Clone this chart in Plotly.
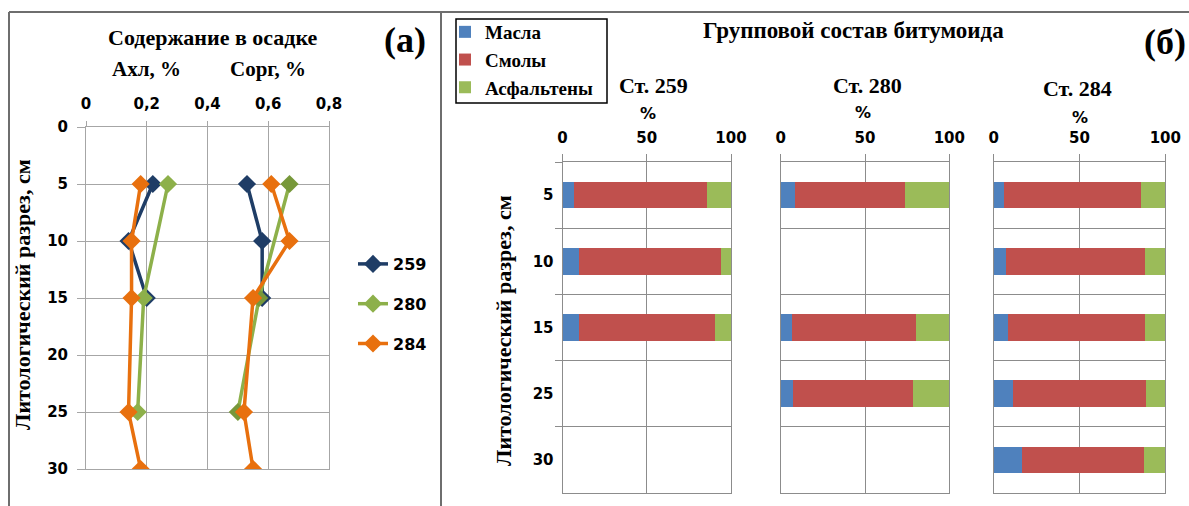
import plotly.graph_objects as go

W, H = 1189, 506

# ---------- data: panel (a) ----------
depth_259 = [5, 10, 15]
akhl_259 = [0.22, 0.14, 0.20]
sorg_259 = [0.53, 0.58, 0.58]
depth_280 = [5, 15, 25]
akhl_280 = [0.27, 0.19, 0.17]
sorg_280 = [0.67, 0.57, 0.50]
depth_284 = [5, 10, 15, 25, 30]
akhl_284 = [0.18, 0.15, 0.15, 0.14, 0.18]
sorg_284 = [0.61, 0.67, 0.55, 0.52, 0.55]

# ---------- data: panel (б) ----------
depth_cats = ["5", "10", "15", "25", "30"]
st259_depth = ["5", "10", "15"]
st259_oil = [7.1, 9.9, 9.9]
st259_resin = [78.5, 84.2, 80.4]
st259_asph = [14.4, 5.9, 9.7]
st280_depth = ["5", "15", "25"]
st280_oil = [8.7, 6.5, 7.3]
st280_resin = [65.0, 73.7, 71.0]
st280_asph = [26.3, 19.8, 21.7]
st284_depth = ["5", "10", "15", "25", "30"]
st284_oil = [6.2, 7.0, 8.2, 11.5, 16.3]
st284_resin = [79.8, 81.2, 80.0, 77.2, 71.1]
st284_asph = [14.0, 11.8, 11.8, 11.3, 12.6]

NAVY, GREEN, GREEN2, ORANGE = "#1F3D66", "#8DB04A", "#77983A", "#E8700E"
C_OIL, C_RES, C_ASP = "#4F81BD", "#C0504D", "#9BBB59"
SERIF = "Liberation Serif"
SANS = "DejaVu Sans"
GRID = "#A6A6A6"
BGRID = "#8C8C8C"

def px(x):
    return x / W

def py(y):
    return 1 - y / H

fig = go.Figure()

line_sets = [
    ("259", NAVY, NAVY, depth_259, akhl_259, sorg_259),
    ("280", GREEN, GREEN2, depth_280, akhl_280, sorg_280),
    ("284", ORANGE, ORANGE, depth_284, akhl_284, sorg_284),
]
for name, c1, c2, d, a, s in line_sets:
    fig.add_trace(go.Scatter(
        x=a, y=d, mode="lines+markers", name=name, legendgroup=name,
        line=dict(color=c1, width=3.5),
        marker=dict(symbol="diamond", size=14, color=c1),
        xaxis="x", yaxis="y", legend="legend"))
    fig.add_trace(go.Scatter(
        x=s, y=d, mode="lines+markers", name=name, legendgroup=name, showlegend=False,
        line=dict(color=c1, width=3.5),
        marker=dict(symbol="diamond", size=14, color=c2),
        xaxis="x", yaxis="y", legend="legend"))

bar_sets = [
    ("x2", "y2", st259_depth, st259_oil, st259_resin, st259_asph, True),
    ("x3", "y3", st280_depth, st280_oil, st280_resin, st280_asph, False),
    ("x4", "y4", st284_depth, st284_oil, st284_resin, st284_asph, False),
]
for xa, ya, d, o, r, a, show in bar_sets:
    for nm, vals, col in (("Масла", o, C_OIL), ("Смолы", r, C_RES), ("Асфальтены", a, C_ASP)):
        fig.add_trace(go.Bar(
            x=vals, y=d, orientation="h", name=nm, legendgroup=nm, showlegend=show,
            marker=dict(color=col, line=dict(width=0)), xaxis=xa, yaxis=ya, legend="legend2"))

tickfont = dict(family=SANS, size=15, color="#000000", weight="bold")

layout = dict(
    template="none",
    width=W, height=H, margin=dict(l=0, r=0, t=0, b=0, pad=0),
    paper_bgcolor="white", plot_bgcolor="white",
    separators=",.", barmode="stack", bargap=0.6,
    xaxis=dict(domain=[px(86), px(329)], range=[0, 0.8], dtick=0.2, side="top",
               showgrid=True, gridcolor=GRID, gridwidth=1, zeroline=False,
               showline=True, mirror=True, linecolor=GRID, linewidth=1,
               ticks="outside", ticklen=5, tickcolor=GRID,
               tickfont=tickfont, ticklabelstandoff=6, anchor="y", automargin=False),
    yaxis=dict(domain=[py(469), py(127)], range=[30, 0], dtick=5,
               showgrid=True, gridcolor=GRID, gridwidth=1, zeroline=False,
               showline=True, mirror=True, linecolor=GRID, linewidth=1,
               ticks="outside", ticklen=8, tickcolor=GRID,
               tickfont=tickfont, ticklabelstandoff=6, anchor="x", automargin=False),
    legend=dict(x=px(353), y=py(247), xanchor="left", yanchor="top",
                font=dict(family=SANS, size=16, color="#000", weight="bold"),
                tracegroupgap=16, bgcolor="rgba(0,0,0,0)", itemwidth=30,
                borderwidth=0),
    legend2=dict(x=px(445), y=py(13), xanchor="left", yanchor="top",
                 font=dict(family=SERIF, size=19, color="#000", weight="bold"),
                 tracegroupgap=0, bgcolor="rgba(0,0,0,0)", borderwidth=0,
                 itemwidth=30),
)

bar_x_domains = [(562.5, 731), (780.7, 949.3), (993.7, 1165.3)]
for i, (x0, x1) in enumerate(bar_x_domains):
    n = i + 2
    first = (i == 0)
    layout[f"xaxis{n}"] = dict(
        domain=[px(x0), px(x1)], range=[0, 100], dtick=50, side="top",
        showgrid=True, gridcolor=BGRID, gridwidth=1, zeroline=False,
        showline=True, mirror=True, linecolor=BGRID, linewidth=1,
        ticks="outside", ticklen=7, tickcolor=BGRID,
        tickfont=tickfont, ticklabelstandoff=5, anchor=f"y{n}", automargin=False)
    layout[f"yaxis{n}"] = dict(
        domain=[py(493), py(162)], type="category", categoryorder="array",
        categoryarray=depth_cats, range=[4.5, -0.5], tickson="boundaries",
        showgrid=True, gridcolor=BGRID, gridwidth=1, zeroline=False,
        showline=True, mirror=True, linecolor=BGRID, linewidth=1,
        ticks="outside" if first else "", ticklen=7, tickcolor=BGRID,
        showticklabels=first, tickfont=tickfont, ticklabelstandoff=5,
        anchor=f"x{n}", automargin=False)

fig.update_layout(**layout)

def ann(text, x, y, size, family=SERIF, angle=0, bold=True):
    fig.add_annotation(text=f"<b>{text}</b>" if bold else text,
                       x=px(x), y=py(y), xref="paper", yref="paper",
                       showarrow=False, textangle=angle, xanchor="center", yanchor="middle",
                       font=dict(family=family, size=size, color="#000"))

ann("Содержание в осадке", 213, 37, 22)
ann("(а)", 405, 40, 36)
ann("Ахл, %", 146, 69, 21)
ann("Сорг, %", 268, 69, 21)
ann("Литологический разрез, см", 22, 295, 22, angle=-90)

ann("Групповой состав битумоида", 853, 31, 23)
ann("(б)", 1165, 42, 36)
ann("Ст. 259", 653, 85, 22)
ann("Ст. 280", 867, 85, 22)
ann("Ст. 284", 1077, 89, 22)
ann("%", 648, 113, 16, family=SANS)
ann("%", 863, 112, 16, family=SANS)
ann("%", 1080, 117, 16, family=SANS)
ann("Литологический разрез, см", 503, 331, 22, angle=-90)

frame = dict(color="#6E6E6E", width=2)
fig.add_shape(type="line", xref="paper", yref="paper", x0=px(9), x1=1, y0=py(12), y1=py(12), line=frame)
fig.add_shape(type="line", xref="paper", yref="paper", x0=px(9), x1=px(9), y0=py(12), y1=0, line=frame)
fig.add_shape(type="line", xref="paper", yref="paper", x0=px(441), x1=px(441), y0=py(12), y1=0, line=frame)
# legend box of panel (б)
fig.add_shape(type="rect", xref="paper", yref="paper", x0=px(456), x1=px(607),
              y0=py(103), y1=py(19), line=dict(color="#000", width=1.5))

fig.write_html("out.html")
